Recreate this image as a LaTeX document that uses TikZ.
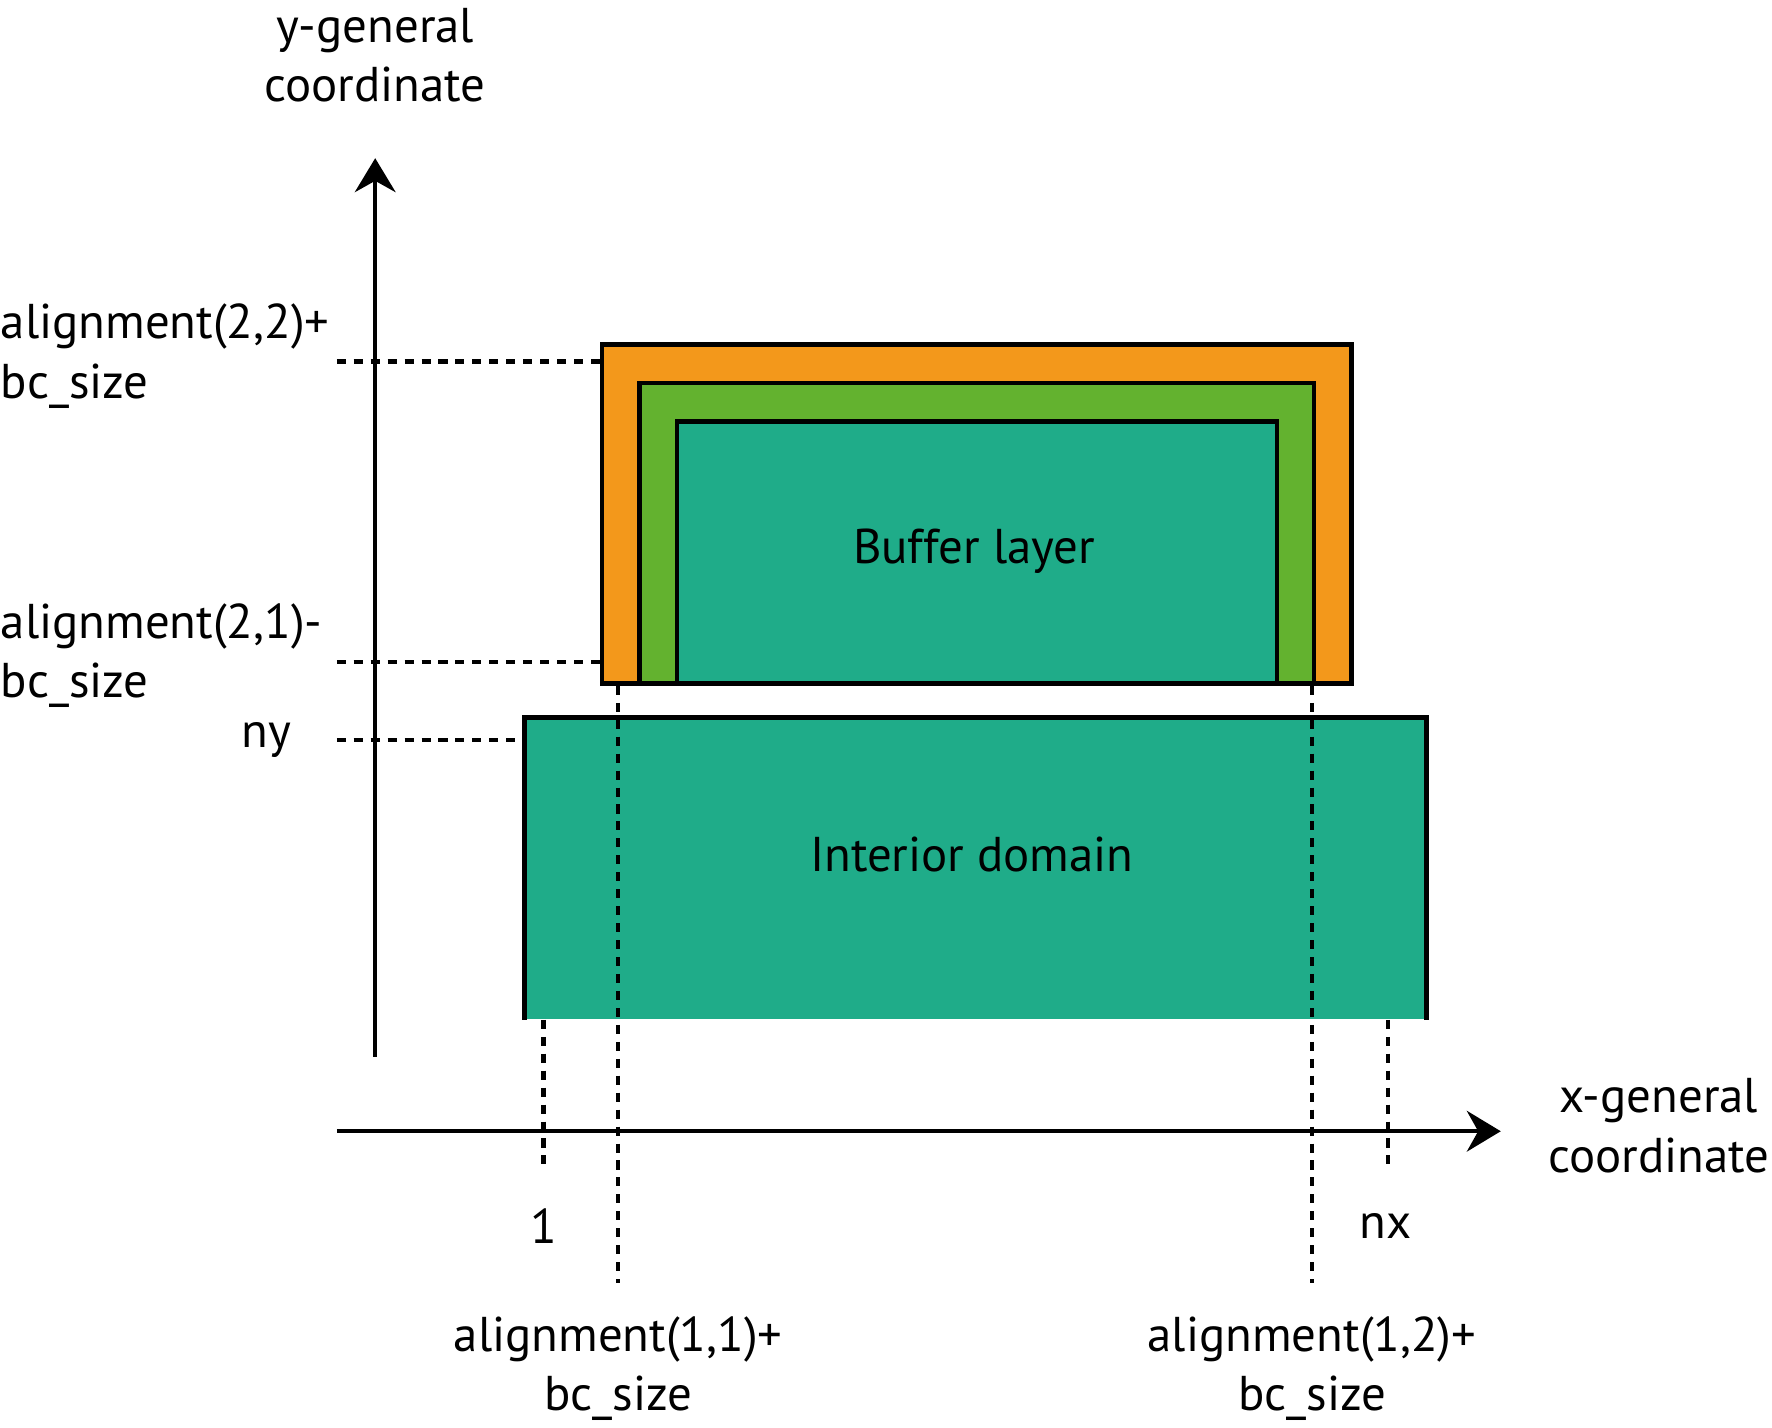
\documentclass[tikz,border=0pt]{standalone}
\usepackage{fontspec}
\setmainfont{PT Sans}
\usetikzlibrary{arrows.meta,positioning}
\definecolor{bcorange}{HTML}{F3981B}
\definecolor{bcgreen}{HTML}{63B22F}
\definecolor{bcteal}{HTML}{1FAC89}
\tikzset{
    %Define standard arrow tip
    >={Stealth[length=3mm,width=3.6mm,inset=1mm]},
    axis/.style={
      draw=black, line width=1.1pt},
    guide/.style={
      draw=black, line width=1.1pt,
      dash pattern=on 0.8mm off 0.7mm},
    layer/.style={
      rectangle,
      draw=black, line width=1.1pt,
      inner sep=0pt,
      anchor=north west},
    lbl/.style={
      font=\fontsize{12.3}{15}\selectfont,
      inner sep=0pt},
}

\begin{document}
\begin{tikzpicture}[x=0.1mm,y=-0.1mm]
    \useasboundingbox (0,0) rectangle (1568,1263);
    % boxes
    \node (orange) [layer,fill=bcorange,minimum width=66.3mm,minimum height=30mm]
          at (531,303) {};
    \node (green) [layer,fill=bcgreen,minimum width=59.7mm,minimum height=26.6mm]
          at (564,337) {};
    \node (buffer) [layer,fill=bcteal,minimum width=53.1mm,minimum height=23.2mm]
          at (597,371) {};
    \node (interior) [rectangle,fill=bcteal,inner sep=0pt,anchor=north west,
          minimum width=79.7mm,minimum height=26.6mm] at (464,635) {};
    \draw [axis] (interior.south west) -- (interior.north west)
          -- (interior.north east) -- (interior.south east);
    \node (buftext) [lbl] at (862,488) {Buffer layer};
    \node (inttext) [lbl] at (860,756) {Interior domain};
    % axes
    \coordinate (yfoot) at (332,935);
    \coordinate (ytip) at (332,140);
    \coordinate (xfoot) at (298,1001);
    \coordinate (xtip) at (1328,1001);
    \draw [axis,->] (yfoot) -- (ytip);
    \draw [axis,->] (xfoot) -- (xtip);
    \node (ylabel) [lbl,align=center] at (332,49)
          {y-general\\coordinate};
    \node (xlabel) [lbl,align=center] at (1468,996)
          {x-general\\coordinate};
    % guide lines
    \coordinate (g22) at (298,320);
    \coordinate (g21) at (298,586);
    \coordinate (gny) at (298,655);
    \draw [guide] (g22) -- (531,320);
    \draw [guide] (g21) -- (531,586);
    \draw [guide] (gny) -- (interior.west |- gny);
    \coordinate (g1) at (481,1035);
    \coordinate (gnx) at (1228,1035);
    \coordinate (g11) at (547,1135);
    \coordinate (g12) at (1161,1135);
    \draw [guide] (g1 |- interior.south) -- (g1);
    \draw [guide] (gnx |- interior.south) -- (gnx);
    \draw [guide] (g11 |- orange.south) -- (g11);
    \draw [guide] (g12 |- orange.south) -- (g12);
    % labels
    \node (l22) [lbl,align=left,anchor=west] at (0,315)
          {alignment(2,2)+\\bc\_size};
    \node (l21) [lbl,align=left,anchor=west] at (0,580)
          {alignment(2,1)-\\bc\_size};
    \node (lny) [lbl,anchor=east] at (258,655) {ny};
    \node (l1) [lbl] at (481,1085) {1};
    \node (lnx) [lbl] at (1226,1085) {nx};
    \node (l11) [lbl,align=center] at (547,1211)
          {alignment(1,1)+\\bc\_size};
    \node (l12) [lbl,align=center] at (1161,1211)
          {alignment(1,2)+\\bc\_size};
\end{tikzpicture}
\end{document}
